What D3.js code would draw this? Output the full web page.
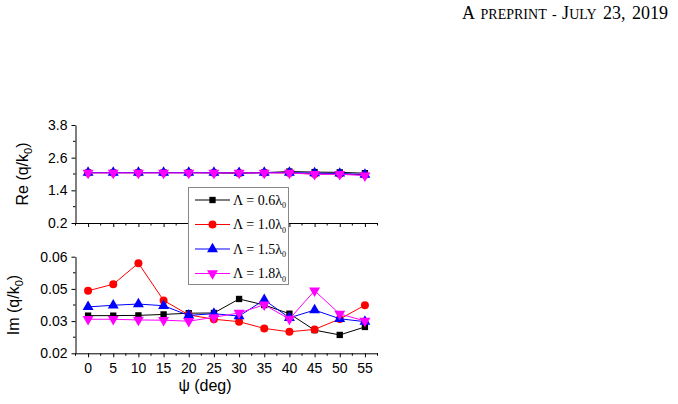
<!DOCTYPE html>
<html>
<head>
<meta charset="utf-8">
<script src="https://cdn.jsdelivr.net/npm/d3@7"></script>
<style>
body { margin: 0; background: #fff; }
svg { display: block; }
</style>
</head>
<body>
<svg id="chart" width="678" height="404"></svg>
<script>
// angulos psi (deg)
const psi = [0, 5, 10, 15, 20, 25, 30, 35, 40, 45, 50, 55];

const series = ["0.6", "1.0", "1.5", "1.8"];
const colores = ["#000000", "#ff0000", "#0000ff", "#ff00ff"];
const simbolos = [d3.symbolSquare, d3.symbolCircle, d3.symbolTriangle, "down"];

// parte real
const re06 = [2.05, 2.05, 2.05, 2.05, 2.05, 2.04, 2.03, 2.05, 2.09, 2.07, 2.06, 2.03];
const re10 = [2.05, 2.05, 2.05, 2.05, 2.05, 2.05, 2.04, 2.05, 2.04, 2.0, 2.0, 1.97];
const re15 = [2.05, 2.05, 2.05, 2.05, 2.05, 2.05, 2.04, 2.05, 2.05, 2.03, 2.02, 1.98];
const re18 = [2.04, 2.04, 2.04, 2.04, 2.04, 2.04, 2.04, 2.04, 2.04, 1.99, 1.99, 1.94];

// parte imaginaria
const im06 = [0.0356, 0.0356, 0.0357, 0.0361, 0.0366, 0.0367, 0.0425, 0.0400, 0.0364, 0.0296, 0.0276, 0.0309];
const im10 = [0.0459, 0.0486, 0.0573, 0.0419, 0.0359, 0.0341, 0.0331, 0.0303, 0.0289, 0.0299, 0.0342, 0.0399];
const im15 = [0.0392, 0.0399, 0.0404, 0.0397, 0.0357, 0.0364, 0.0354, 0.0421, 0.0347, 0.0379, 0.0343, 0.0331];
const im18 = [0.0341, 0.0341, 0.0338, 0.0337, 0.0333, 0.0349, 0.0367, 0.0401, 0.0342, 0.0459, 0.0363, 0.0334];

const reTicks = [0.2, 1.4, 2.6, 3.8];
const reTickLabels = ["0.2", "1.4", "2.6", "3.8"];
const imTicks = [0.02, 0.02 + 0.04 / 3, 0.02 + 0.08 / 3, 0.06];
const imTickLabels = ["0.02", "0.03", "0.05", "0.06"];

const svg = d3.select("#chart");

// encabezado (versalitas a mano)
const serif = "'Liberation Serif', 'Times New Roman', serif";
const enc = svg.append("text")
    .attr("x", 668).attr("y", 19)
    .attr("text-anchor", "end")
    .style("font-family", serif)
    .style("font-size", "18px")
    .style("word-spacing", "2px");
[["A", 18], [" PREPRINT - ", 14], ["J", 18], ["ULY", 14], [" 23, 2019", 18]].forEach(([s, f]) => {
    enc.append("tspan").style("font-size", f + "px").text(s);
});

const x = d3.scaleLinear().domain([-2.5, 57.5]).range([75.5, 377.5]);
const yRe = d3.scaleLinear().domain([0.2, 3.8]).range([223, 125]);
const yIm = d3.scaleLinear().domain([0.02, 0.06]).range([353.3, 256.7]);

const fuente = "'Liberation Sans', Arial, sans-serif";

function panel(y, ticks, labels, title, titleX, datos) {
    const g = svg.append("g");
    const [y0, y1] = y.range();

    // eje X
    const ax = g.append("g")
        .attr("transform", `translate(0,${y0})`)
        .call(d3.axisBottom(x).tickValues(psi).tickSize(4).tickSizeOuter(0).tickFormat(""));
    ax.select(".domain").attr("stroke", "#000");
    const minX = d3.range(-2.5, 60, 5);
    ax.selectAll("line.minor").data(minX).join("line").attr("class", "minor")
        .attr("x1", d => x(d)).attr("x2", d => x(d))
        .attr("y1", 0).attr("y2", 2.5).attr("stroke", "#000");

    // eje Y
    const ay = g.append("g")
        .attr("transform", `translate(${x.range()[0]},0)`)
        .call(d3.axisLeft(y).tickValues(ticks).tickSize(4).tickSizeOuter(0)
            .tickFormat((d, i) => labels[i]));
    ay.select(".domain").attr("stroke", "#000");
    ay.selectAll("text").style("font-family", fuente).style("font-size", "14px").attr("x", -8);
    const minY = d3.range(3).map(i => (ticks[i] + ticks[i + 1]) / 2);
    ay.selectAll("line.minor").data(minY).join("line").attr("class", "minor")
        .attr("x1", 0).attr("x2", -2.5)
        .attr("y1", d => y(d)).attr("y2", d => y(d)).attr("stroke", "#000");

    // titulo Y
    const t = g.append("text")
        .attr("transform", `translate(${titleX},${(y0 + y1) / 2}) rotate(-90)`)
        .attr("text-anchor", "middle")
        .style("font-family", fuente)
        .style("font-size", "16px");
    t.append("tspan").text(title + " (q/k");
    t.append("tspan").attr("dy", 4).style("font-size", "11px").text("0");
    t.append("tspan").attr("dy", -4).text(")");

    // series
    datos.forEach((vals, i) => {
        const pts = psi.map((p, j) => [x(p), y(vals[j])]);
        g.append("path")
            .attr("d", d3.line()(pts))
            .attr("fill", "none")
            .attr("stroke", colores[i])
            .attr("stroke-width", 1);
        g.selectAll(null).data(pts).join("path")
            .attr("d", marcador(i))
            .attr("transform", d => `translate(${d[0]},${d[1]})`)
            .attr("fill", colores[i]);
    });
    return ax;
}

function marcador(i) {
    if (simbolos[i] === "down") {
        return d3.symbol().type(d3.symbolTriangle).size(52)().replace(/(-?[\d.]+),(-?[\d.]+)/g, (m, a, b) => `${a},${-b}`);
    }
    const size = i === 0 ? 40 : (i === 1 ? 50 : 52);
    return d3.symbol().type(simbolos[i]).size(size)();
}

panel(yRe, reTicks, reTickLabels, "Re", 28, [re06, re10, re15, re18]);
const axIm = panel(yIm, imTicks, imTickLabels, "Im", 19, [im06, im10, im15, im18]);

// etiquetas X
axIm.selectAll("g.tick text").remove();
svg.append("g").selectAll("text").data(psi).join("text")
    .attr("x", d => x(d)).attr("y", 373)
    .attr("text-anchor", "middle")
    .style("font-family", fuente).style("font-size", "14px")
    .text(d => d);

svg.append("text")
    .attr("x", 205).attr("y", 391)
    .attr("text-anchor", "middle")
    .style("font-family", fuente).style("font-size", "16px")
    .text("ψ (deg)");

// leyenda
const leg = svg.append("g");
leg.append("rect")
    .attr("x", 188.5).attr("y", 187.5).attr("width", 100).attr("height", 97)
    .attr("fill", "#fff").attr("stroke", "#888");

series.forEach((s, i) => {
    const yy = 200 + i * 24.5;
    leg.append("line").attr("x1", 195).attr("x2", 230).attr("y1", yy).attr("y2", yy)
        .attr("stroke", colores[i]).attr("stroke-width", 1.2);
    leg.append("path").attr("d", marcador(i))
        .attr("transform", `translate(212.5,${yy})`).attr("fill", colores[i]);
    const t = leg.append("text").attr("x", 233).attr("y", yy + 4.5)
        .style("font-family", serif)
        .style("font-size", "14px");
    t.append("tspan").text(`Λ = ${s}λ`);
    t.append("tspan").attr("dy", 3.5).style("font-size", "8px").text("0");
});
</script>
</body>
</html>
